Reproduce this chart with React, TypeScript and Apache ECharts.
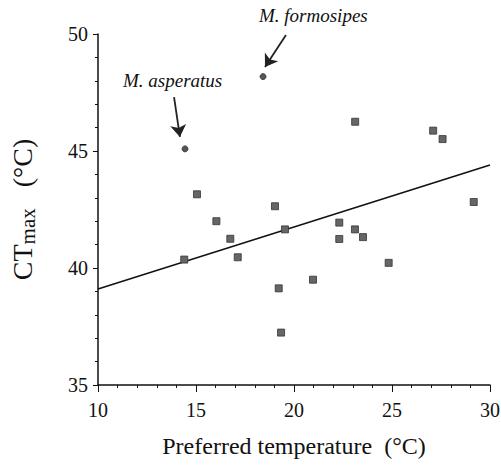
import React, { useEffect, useRef } from "react";
import * as echarts from "echarts";

const squareX = [14.4, 15.05, 16.04, 16.75, 17.13, 19.03, 19.22, 19.34, 19.54, 20.97, 22.31, 22.31, 23.11, 23.52, 23.12, 24.83, 27.1, 27.58, 29.17];
const squareY = [40.36, 43.15, 42.0, 41.25, 40.46, 42.64, 39.13, 37.24, 41.65, 39.5, 41.94, 41.24, 41.65, 41.32, 46.25, 40.22, 45.87, 45.51, 42.82];
const circleNames = ["M. asperatus", "M. formosipes"];
const circleX = [14.44, 18.42];
const circleY = [45.09, 48.18];
const fitX = [10, 30];
const fitY = [39.1, 44.4];
const xTicks = [10, 15, 20, 25, 30];
const yTicks = [35, 40, 45, 50];
// arrows: [startX, startY, endX, endY]
const arrowAsperatus = [13.88, 47.3, 14.18, 45.6];
const arrowFormosipes = [19.59, 49.96, 18.52, 48.59];

const FONT = "Liberation Serif, serif";

export default function App() {
  const ref = useRef<HTMLDivElement>(null);
  useEffect(() => {
    if (!ref.current) return;
    const chart = echarts.init(ref.current, null, { renderer: "svg" });
    const arrowStyle = { color: "#222", width: 1.8, type: "solid" as const };
    chart.setOption({
      animation: false,
      backgroundColor: "#fff",
      textStyle: { fontFamily: FONT },
      grid: { left: 98, right: 11, top: 34, bottom: 84, containLabel: false, outerBoundsMode: "none" },
      xAxis: {
        type: "value",
        min: xTicks[0],
        max: xTicks[xTicks.length - 1],
        interval: 5,
        name: "Preferred temperature  (°C)",
        nameLocation: "middle",
        nameGap: 48,
        nameTextStyle: { fontFamily: FONT, fontSize: 24, color: "#111", lineHeight: 26 },
        axisLine: { lineStyle: { color: "#111", width: 1.5 } },
        axisTick: { show: true, length: 7, lineStyle: { color: "#111" } },
        minorTick: { show: true, splitNumber: 5, length: 3, lineStyle: { color: "#111" } },
        splitLine: { show: false },
        axisLabel: { fontFamily: FONT, fontSize: 20, color: "#111", margin: 15 },
      },
      yAxis: {
        type: "value",
        min: yTicks[0],
        max: yTicks[yTicks.length - 1],
        interval: 5,
        name: "{a|CT}{b|max}{a|   (°C)}",
        nameLocation: "middle",
        nameGap: 60,
        nameRotate: 90,
        nameTextStyle: {
          fontFamily: FONT,
          color: "#111",
          rich: {
            a: { fontFamily: FONT, fontSize: 28, color: "#111", lineHeight: 30, verticalAlign: "top" },
            b: { fontFamily: FONT, fontSize: 21, color: "#111", lineHeight: 30, padding: [14, 0, 0, 0], verticalAlign: "bottom" },
          },
        },
        axisLine: { show: true, lineStyle: { color: "#111", width: 1.5 } },
        axisTick: { show: true, length: 5, lineStyle: { color: "#111" } },
        minorTick: { show: true, splitNumber: 5, length: 3, lineStyle: { color: "#111" } },
        splitLine: { show: false },
        axisLabel: { fontFamily: FONT, fontSize: 20, color: "#111", margin: 10 },
      },
      series: [
        {
          type: "line",
          data: fitX.map((x, i) => [x, fitY[i]]),
          showSymbol: false,
          symbol: "none",
          lineStyle: { color: "#111", width: 1.5 },
          z: 2,
        },
        {
          type: "scatter",
          data: squareX.map((x, i) => [x, squareY[i]]),
          symbol: "rect",
          symbolSize: 7,
          itemStyle: { color: "#666", borderColor: "#333", borderWidth: 0.8, opacity: 1 },
          z: 3,
        },
        {
          type: "scatter",
          data: circleX.map((x, i) => ({ name: circleNames[i], value: [x, circleY[i]] })),
          symbol: "circle",
          symbolSize: 6,
          itemStyle: { color: "#555", borderColor: "#333", borderWidth: 0.8, opacity: 1 },
          z: 3,
          markLine: {
            silent: true,
            symbol: ["none", "arrow"],
            symbolSize: 12,
            lineStyle: arrowStyle,
            itemStyle: { color: "#333" },
            label: { show: false },
            data: [
              [
                { coord: [arrowAsperatus[0], arrowAsperatus[1]] },
                { coord: [arrowAsperatus[2], arrowAsperatus[3]] },
              ],
              [
                { coord: [arrowFormosipes[0], arrowFormosipes[1]] },
                { coord: [arrowFormosipes[2], arrowFormosipes[3]] },
              ],
            ],
          },
        },
      ],
      graphic: [
        {
          type: "text",
          left: 123,
          top: 71,
          style: { text: circleNames[0], fontFamily: FONT, fontSize: 19, fontStyle: "italic", fill: "#111" },
        },
        {
          type: "text",
          left: 259,
          top: 6,
          style: { text: circleNames[1], fontFamily: FONT, fontSize: 19, fontStyle: "italic", fill: "#111" },
        },
      ],
    });
    return () => chart.dispose();
  }, []);
  return <div ref={ref} style={{ position: "fixed", left: 0, top: 0, width: 501, height: 469 }} />;
}
